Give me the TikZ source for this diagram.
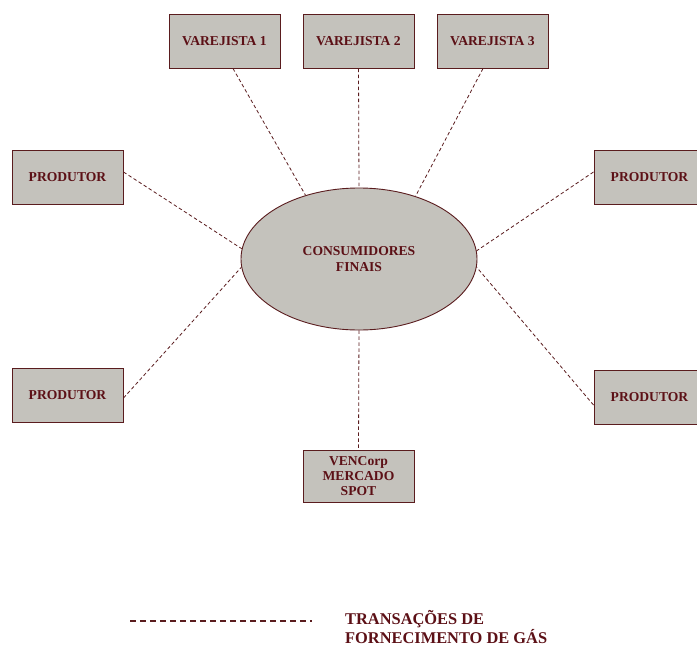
\documentclass[tikz,border=0pt]{standalone}
\usepackage{fontspec}
\setmainfont{Liberation Serif}
\usetikzlibrary{shapes.geometric,calc}
\definecolor{ink}{HTML}{5C1016}
\definecolor{edge}{HTML}{5A1C1E}
\definecolor{boxfill}{HTML}{C4C2BC}
\begin{document}
\begin{tikzpicture}[x=1pt,y=-1pt,
  agent/.style={draw=edge,line width=1pt,fill=boxfill,minimum width=111pt,minimum height=54pt,
    inner sep=0pt,text=ink,font=\fontsize{13.6}{14.8}\selectfont\bfseries,align=center},
  hub/.style={ellipse,draw=edge,line width=0.9pt,fill=boxfill,minimum width=236pt,minimum height=142pt,
    inner sep=0pt,text=ink,font=\fontsize{13.6}{16}\selectfont\bfseries,align=center},
  link/.style={draw=edge,line width=0.8pt,dash pattern=on 3.5pt off 2.5pt},
  keyline/.style={draw=edge,line width=1.1pt,dash pattern=on 6pt off 4pt},
  keytext/.style={text=ink,font=\fontsize{16.4}{19}\selectfont\bfseries,align=left,anchor=north west,inner sep=0pt}]
\clip (0,0) rectangle (697,646);
\fill[white] (0,0) rectangle (697,646);

% central market
\node[hub] (ell) at (359,259) {CONSUMIDORES\\FINAIS};

% retailers
\node[agent] (v1) at (224.5,41) {VAREJISTA 1};
\node[agent] (v2) at (358.5,41) {VAREJISTA 2};
\node[agent] (v3) at (492.5,41) {VAREJISTA 3};

% producers
\node[agent] (p1) at (67.5,177) {PRODUTOR};
\node[agent] (p2) at (67.5,395.5) {PRODUTOR};
\node[agent] (p3) at (649.5,177.5) {PRODUTOR};
\node[agent] (p4) at (649.5,397.5) {PRODUTOR};

% spot market
\node[agent,minimum height=52pt] (ven) at (358.5,476) {VENCorp\\MERCADO\\SPOT};

% supply transactions
\draw[link] ($(v1.south)+(8.5,0)$) -- (ell.130.8);
\draw[link] (v2.south) -- (ell.north);
\draw[link] ($(v3.south)+(-9.5,0)$) -- (ell.48.8);
\draw[link] ($(p1.east)+(0,-5)$) -- (ell.175.6);
\draw[link] ($(p2.east)+(0,2.5)$) -- (ell.184.4);
\draw[link] ($(p3.west)+(0,-5.5)$) -- (ell.4.4);
\draw[link] ($(p4.west)+(0,7.5)$) -- (ell.-4.3);
\draw[link] (ell.south) -- (ven.north);

% legend
\coordinate (k1) at (130,621);
\coordinate (k2) at (312,621);
\draw[keyline] (k1) -- (k2);
\node[keytext] (kt) at (345,610.5) {TRANSAÇÕES DE\\FORNECIMENTO DE GÁS};
\end{tikzpicture}
\end{document}
